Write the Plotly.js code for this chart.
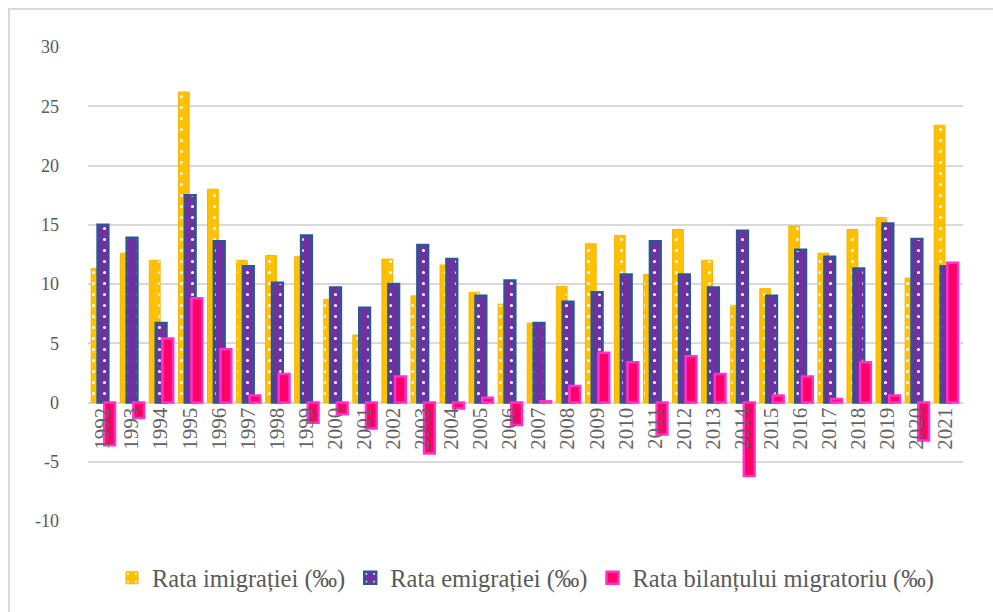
<!DOCTYPE html>
<html>
<head>
<meta charset="utf-8">
<script src="https://cdn.plot.ly/plotly-3.0.1.min.js"></script>
<style>
  html, body { margin: 0; padding: 0; background: #fff; }
  #frame { position: absolute; left: 8px; top: 8px; width: 1000px; height: 620px; border-left: 2px solid #d9d9d9; border-top: 2px solid #d9d9d9; box-sizing: border-box; pointer-events: none; z-index: 10; }
  #chart { width: 993px; height: 612px; }
</style>
</head>
<body>
<div id="frame"></div>
<div id="chart"></div>
<script>
const years = ["1992","1993","1994","1995","1996","1997","1998","1999","2000","2001",
               "2002","2003","2004","2005","2006","2007","2008","2009","2010","2011",
               "2012","2013","2014","2015","2016","2017","2018","2019","2020","2021"];
const imigratie = [11.3,12.6,12.0,26.2,18.0,12.0,12.4,12.3,8.7,5.7,
                   12.1,9.0,11.6,9.3,8.3,6.7,9.8,13.4,14.1,10.8,
                   14.6,12.0,8.2,9.6,14.9,12.6,14.6,15.6,10.5,23.4];
const emigratie = [15.0,13.9,6.7,17.5,13.6,11.5,10.1,14.1,9.7,8.0,
                   10.0,13.3,12.1,9.0,10.3,6.7,8.5,9.3,10.8,13.6,
                   10.8,9.7,14.5,9.0,12.9,12.3,11.3,15.1,13.8,11.5];
const bilant = [-3.6,-1.3,5.4,8.8,4.5,0.6,2.4,-1.7,-1.0,-2.2,
                2.2,-4.3,-0.5,0.4,-1.9,0.1,1.4,4.2,3.4,-2.7,
                3.9,2.4,-6.2,0.6,2.2,0.3,3.4,0.6,-3.2,11.8];
const names = ["Rata imigrației (‰)","Rata emigrației (‰)","Rata bilanțului migratoriu (‰)"];
const yTicks = [-10,-5,0,5,10,15,20,25,30];

const serif = "Liberation Serif, DejaVu Serif, serif";
const barW = 0.37;

const traces = [
  {
    type: 'bar', name: names[0], x: years, y: imigratie,
    width: barW, offset: -0.39,
    marker: { color: '#FFC000', line: { color: '#F2B600', width: 1 },
              pattern: { shape: '.', fgcolor: '#ffffff', bgcolor: '#FFC000', fillmode: 'replace', size: 11, solidity: 0.06 } }
  },
  {
    type: 'bar', name: names[1], x: years, y: emigratie,
    width: barW, offset: -0.17,
    marker: { color: '#7030A0', line: { color: '#2F5597', width: 2.5 },
              pattern: { shape: '.', fgcolor: '#ffffff', bgcolor: '#7030A0', fillmode: 'replace', size: 11, solidity: 0.06 } }
  },
  {
    type: 'bar', name: names[2], x: years, y: bilant,
    width: barW, offset: 0.06,
    marker: { color: '#FF0066', line: { color: '#FF33CC', width: 2.5 } }
  }
];

const layout = {
  width: 993, height: 612,
  margin: { l: 88, r: 30, t: 47, b: 91 },
  paper_bgcolor: '#ffffff', plot_bgcolor: '#ffffff',
  barmode: 'overlay',
  showlegend: true,
  legend: {
    orientation: 'h', x: 0.5, xanchor: 'center', y: -0.12, yanchor: 'middle',
    font: { family: serif, size: 24.5, color: '#595959' },
    itemwidth: 30, traceorder: 'normal'
  },
  xaxis: {
    type: 'category', anchor: 'free', position: 0.25,
    tickangle: -90, ticks: '', showgrid: false, showline: false, zeroline: false,
    tickfont: { family: serif, size: 21, color: '#636363' },
    range: [-0.5, 29.6]
  },
  yaxis: {
    range: [-10, 30], tickvals: yTicks, ticktext: yTicks.map(String),
    showgrid: true, gridcolor: '#D9D9D9', gridwidth: 2,
    zeroline: false, showline: false, ticks: '',
    ticklabelstandoff: 28,
    tickfont: { family: serif, size: 18, color: '#595959' }
  }
};

Plotly.newPlot('chart', traces, layout, { displayModeBar: false, staticPlot: true });
</script>
</body>
</html>
